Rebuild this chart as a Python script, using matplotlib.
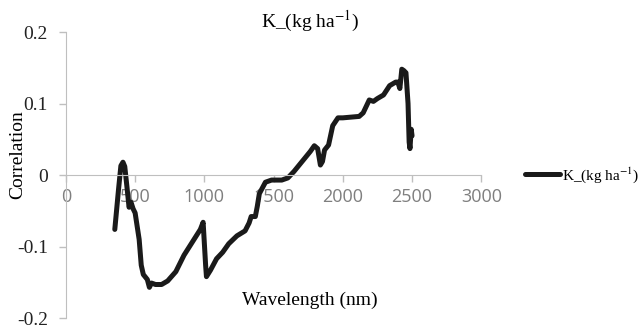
import matplotlib
matplotlib.use("Agg")
import matplotlib.pyplot as plt

# wavelength (nm) and correlation
wavelength = [353, 380, 397, 412, 425, 441, 456, 470, 485, 500, 529, 544, 559, 588, 603, 618,
              647, 691, 735, 794, 853, 912, 971, 991, 1009, 1015, 1044, 1088, 1132, 1176,
              1235, 1294, 1323, 1338, 1368, 1382, 1397, 1441, 1485, 1559, 1603, 1647, 1706,
              1765, 1794, 1818, 1838, 1853, 1868, 1897, 1927, 1965, 2000, 2118, 2147, 2191,
              2221, 2250, 2294, 2338, 2382, 2397, 2412, 2426, 2441, 2456, 2471, 2479, 2485,
              2494, 2500]
correlation = [-0.076, -0.02, 0.013, 0.018, 0.012, -0.017, -0.045, -0.038, -0.047, -0.053,
               -0.09, -0.126, -0.139, -0.146, -0.157, -0.151, -0.153, -0.153, -0.148, -0.135,
               -0.112, -0.094, -0.076, -0.066, -0.126, -0.142, -0.133, -0.117, -0.108, -0.096,
               -0.085, -0.078, -0.067, -0.058, -0.058, -0.044, -0.026, -0.010, -0.007, -0.007,
               -0.004, 0.005, 0.019, 0.033, 0.041, 0.037, 0.014, 0.019, 0.035, 0.042, 0.069,
               0.080, 0.080, 0.082, 0.087, 0.105, 0.103, 0.107, 0.112, 0.125, 0.130, 0.130,
               0.121, 0.148, 0.146, 0.143, 0.100, 0.046, 0.037, 0.064, 0.055]
series_name = "K_(kg ha$^{-1}$)"
xticks = [0, 500, 1000, 1500, 2000, 2500, 3000]
yticks = [-0.2, -0.1, 0, 0.1, 0.2]
ytick_labels = ['-0.2', '-0.1', '0', '0.1', '0.2']

plt.rcParams['font.family'] = ['Liberation Serif', 'DejaVu Serif']
plt.rcParams['mathtext.fontset'] = 'stix'
plt.rcParams['axes.unicode_minus'] = False

fig = plt.figure(figsize=(6.4, 3.3), dpi=100)
ax = fig.add_axes([0.103, 0.036, 0.649, 0.867])

ax.plot(wavelength, correlation, color='#1a1a1a', lw=3.6, solid_joinstyle='round',
        solid_capstyle='round', label=series_name)

ax.set_xlim(0, 3000)
ax.set_ylim(-0.2, 0.2)
ax.set_xticks(xticks)
ax.set_yticks(yticks)
ax.set_yticklabels(ytick_labels)

for s in ['top', 'right']:
    ax.spines[s].set_visible(False)
ax.spines['bottom'].set_position(('data', 0))
ax.spines['bottom'].set_color('#bfbfbf')
ax.spines['left'].set_color('#bfbfbf')
ax.tick_params(axis='both', colors='#bfbfbf', length=5, width=1)
ax.tick_params(axis='x', labelcolor='#7f7f7f', labelsize=13, pad=4)
ax.tick_params(axis='y', labelcolor='#222222', labelsize=14, pad=8)
for lab in ax.get_xticklabels():
    lab.set_family(['Open Sans', 'DejaVu Sans'])

fig.text(0.484, 0.935, series_name, ha='center', va='center', fontsize=14)
fig.text(0.028, 0.53, "Correlation", rotation=90, ha='center', va='center', fontsize=14)
fig.text(0.484, 0.09, "Wavelength (nm)", ha='center', va='center', fontsize=14,
         bbox=dict(facecolor='white', edgecolor='none', pad=1))

ax.legend(loc='center left', bbox_to_anchor=(1.105, 0.5), frameon=False, fontsize=11,
          handlelength=2.3, handletextpad=0.1, borderpad=0, borderaxespad=0)

fig.savefig("out.png", dpi=100)
